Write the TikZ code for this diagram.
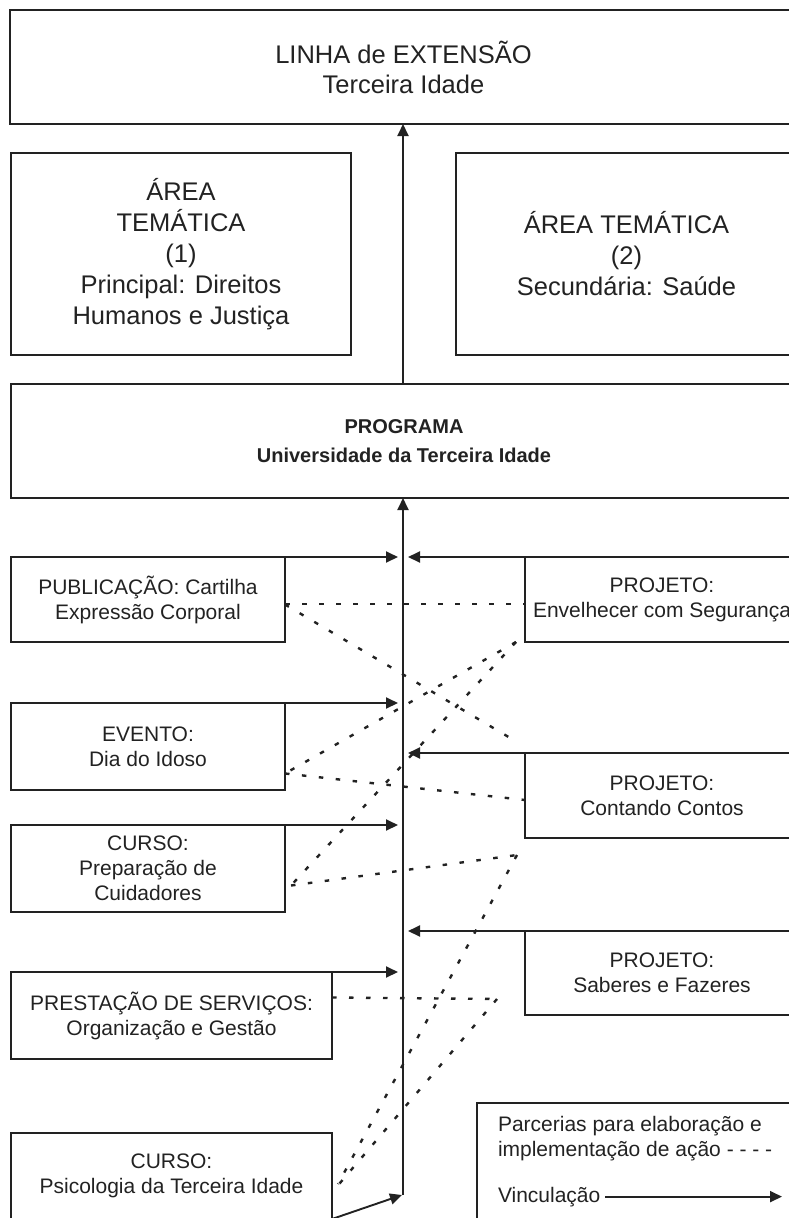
\documentclass[tikz,border=0pt]{standalone}
\usepackage{fontspec}
\setmainfont{Liberation Sans}
\usetikzlibrary{arrows.meta,calc}
\definecolor{ink}{HTML}{222222}
\begin{document}
\begin{tikzpicture}[x=1pt,y=-1pt,
  box/.style={draw=ink, line width=1.9pt, rectangle, inner sep=0pt, outer sep=0pt, anchor=north west, align=center, text=ink},
  small/.style={font=\fontsize{21}{25}\selectfont},
  big/.style={font=\fontsize{25.5}{31}\selectfont},
  bigtop/.style={font=\fontsize{25.5}{30}\selectfont},
  boldtxt/.style={font=\fontsize{20}{29}\selectfont\bfseries},
  link/.style={draw=ink, line width=1.9pt, -{Triangle[length=12pt,width=11pt]}},
  partner/.style={draw=ink, line width=2.4pt, dash pattern=on 4.5pt off 12.5pt},
  plain/.style={inner sep=0pt, outer sep=0pt, text=ink, align=left}
]
\useasboundingbox (0,0) rectangle (789,1218);
\clip (0,0) rectangle (789,1218);

% boxes
\node[box, bigtop, minimum width=787pt, minimum height=114pt] (linha) at (10,10) {LINHA de EXTENSÃO\\Terceira Idade};
\node[box, big, minimum width=340pt, minimum height=202pt] (area1) at (11,153) {ÁREA\\TEMÁTICA\\(1)\\Principal: Direitos\\Humanos e Justiça};
\node[box, big, minimum width=341pt, minimum height=202pt] (area2) at (456,153) {ÁREA TEMÁTICA\\(2)\\Secundária: Saúde};
\node[box, boldtxt, minimum width=786pt, minimum height=114pt] (programa) at (11,384) {PROGRAMA\\Universidade da Terceira Idade};

\node[box, small, minimum width=274pt, minimum height=85pt] (pub) at (11,557) {PUBLICAÇÃO: Cartilha\\Expressão Corporal};
\node[box, small, minimum width=274pt, minimum height=85pt] (env) at (525,557) {PROJETO:\\Envelhecer com Segurança};
\node[box, small, minimum width=274pt, minimum height=87pt] (evento) at (11,703) {EVENTO:\\Dia do Idoso};
\node[box, small, minimum width=274pt, minimum height=85pt] (contando) at (525,753) {PROJETO:\\Contando Contos};
\node[box, small, minimum width=274pt, minimum height=87pt] (prep) at (11,825) {CURSO:\\Preparação de\\Cuidadores};
\node[box, small, minimum width=274pt, minimum height=84pt] (saberes) at (525,931) {PROJETO:\\Saberes e Fazeres};
\node[box, small, minimum width=321pt, minimum height=87pt] (prest) at (11,972) {PRESTAÇÃO DE SERVIÇOS:\\Organização e Gestão};
\node[box, small, minimum width=321pt, minimum height=86pt] (psico) at (11,1133) {CURSO:\\Psicologia da Terceira Idade};

% legend
\node[box, minimum width=322pt, minimum height=122pt] (legend) at (477,1103) {};
\node[plain, small, anchor=north west] (legtxt) at (498,1116) {Parcerias para elaboração e\\implementação de ação - - - -};
\node[plain, small, anchor=base west] (vinc) at (498,1202) {Vinculação};
\coordinate (lgend) at (782,1196);
\draw[link] ([xshift=5pt]vinc.east) -- (vinc.east -| lgend);

% main spine
\coordinate (sb) at (403,1195);
\draw[link] (sb) -- (sb |- programa.south);
\draw[link] (programa.north -| sb) -- (linha.south -| sb);

% vinculacao arrows
\draw[link, shorten >=5pt] (pub.north east) -- (pub.north east -| sb);
\draw[link, shorten >=5pt] (env.north west) -- (env.north west -| sb);
\draw[link, shorten >=5pt] (evento.north east) -- (evento.north east -| sb);
\draw[link, shorten >=5pt] (contando.north west) -- (contando.north west -| sb);
\draw[link, shorten >=5pt] (prep.north east) -- (prep.north east -| sb);
\draw[link, shorten >=5pt] (saberes.north west) -- (saberes.north west -| sb);
\draw[link, shorten >=5pt] ([xshift=-47pt]prest.north east) -- (prest.north east -| sb);
\draw[link] (psico.south east) -- ([xshift=-1pt]sb);

% partnerships
\coordinate (k1) at (517,855);
\coordinate (k2) at (497,999);
\draw[partner] ([yshift=-4.5pt]pub.east) -- ([yshift=-4.5pt]env.west);
\draw[partner] ([yshift=-5pt]pub.east) -- ([xshift=-8pt,yshift=11pt]contando.north west);
\draw[partner] ([xshift=-9pt]env.south west) -- ([yshift=-27pt]evento.east);
\draw[partner] ([xshift=-9pt]env.south west) -- ([xshift=6pt,yshift=-17pt]prep.east);
\draw[partner] ([yshift=-27pt]evento.east) -- ([yshift=-4.5pt]contando.west);
\draw[partner] ([xshift=6pt,yshift=-17pt]prep.east) -- (k1);
\draw[partner] (k1) -- ([xshift=6pt,yshift=-8pt]psico.east);
\draw[partner] ([yshift=18pt]prest.east) -- (k2);
\draw[partner] (k2) -- ([xshift=2pt,yshift=-14pt]psico.east);
\end{tikzpicture}
\end{document}
